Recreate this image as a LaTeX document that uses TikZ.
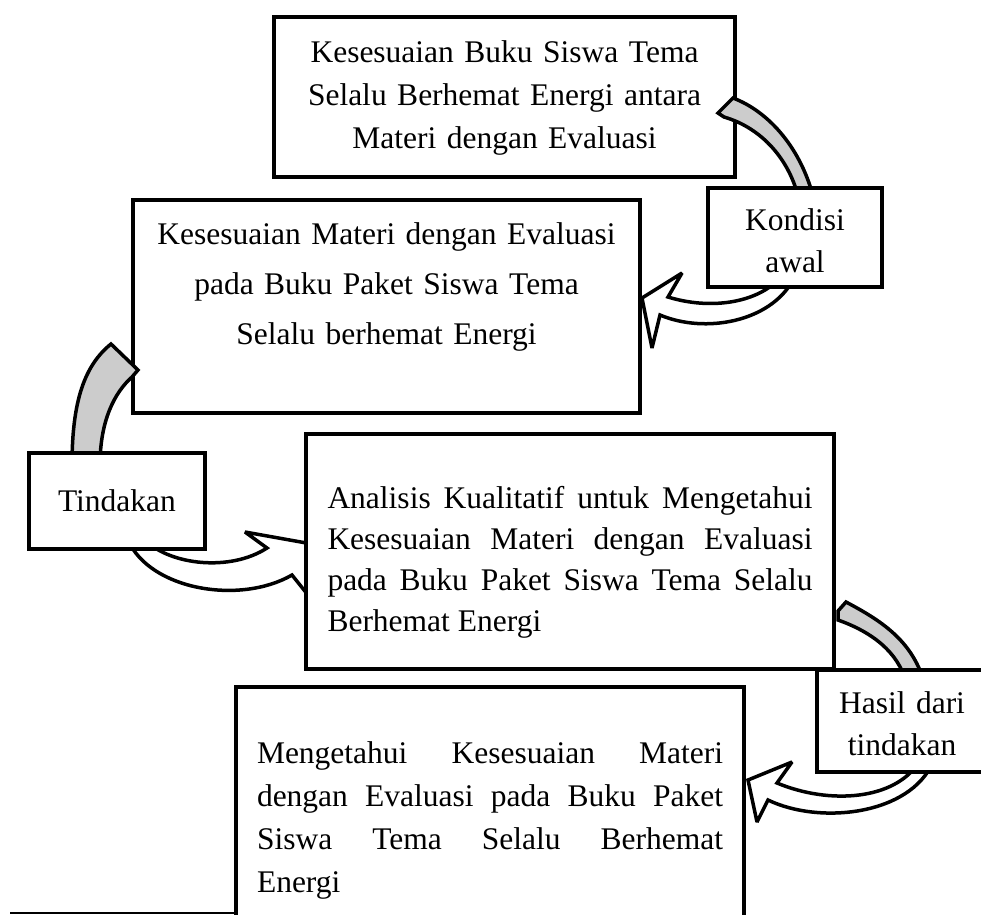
\documentclass[tikz,border=0pt]{standalone}
\usepackage{fontspec}
\setmainfont{Liberation Serif}

\begin{document}
\hyphenpenalty=10000
\begin{tikzpicture}[x=1pt, y=-1pt,
    kotak/.style={draw=black, line width=4pt, fill=white, inner sep=0pt, align=center},
    huruf/.style={font=\fontsize{31.5}{#1}\selectfont},
    lengkung/.style={draw=black, line width=3.5pt, line join=miter, miter limit=3}]
    \useasboundingbox (0,0) rectangle (981,914);
    \clip (0,0) rectangle (981,914);
    \node[kotak, huruf=43, text width=461pt, text height=45pt, text depth=115pt] (kesesuaian) at (504.5,97)
      {Kesesuaian Buku Siswa Tema\\ Selalu Berhemat Energi antara\\ Materi dengan Evaluasi};
    \filldraw[lengkung, fill=black!20] (733,98) .. controls (770,112) and (802,150) .. (814,200)
      -- (799,200) .. controls (790,160) and (762,128) .. (724,117) -- (718,113) -- cycle;
    \filldraw[lengkung, fill=white] (642,298) -- (682,273) -- (668,297)
      .. controls (710,310) and (755,303) .. (778,280) -- (793,280)
      .. controls (770,322) and (705,334) .. (660,315) -- (652,348) -- cycle;
    \node[kotak, huruf=42, text width=174pt, text height=42pt, text depth=57pt] (kondisi) at (795,237.5)
      {Kondisi\\ awal};
    \node[kotak, huruf=50, text width=507pt, text height=44pt, text depth=169pt] (materi) at (386.5,306.5)
      {Kesesuaian Materi dengan Evaluasi\\ pada Buku Paket Siswa Tema\\ Selalu berhemat Energi};
    \filldraw[lengkung, fill=black!20] (72,465) .. controls (72,400) and (85,365) .. (111,344)
      -- (138,370) -- (132,377) .. controls (115,392) and (100,420) .. (100,465) -- cycle;
    \filldraw[lengkung, fill=white] (128,540) .. controls (150,590) and (240,605) .. (292,575)
      -- (312,600) -- (340,549) -- (245,532) -- (267,548)
      .. controls (230,572) and (170,565) .. (145,540) -- cycle;
    \node[kotak, huruf=42, text width=176pt, text height=58pt, text depth=38pt] (tindakan) at (117,501)
      {Tindakan};
    \node[kotak, huruf=41, align=justify, text width=485pt, inner xsep=21.5pt,
      text height=74pt, text depth=161pt] (analisis) at (570,551.5)
      {Analisis Kualitatif untuk Mengetahui\linebreak Kesesuaian Materi dengan Evaluasi\linebreak
       pada Buku Paket Siswa Tema Selalu\linebreak Berhemat Energi};
    \filldraw[lengkung, fill=black!20] (846,602) .. controls (880,620) and (912,640) .. (924,682)
      -- (906,682) .. controls (898,652) and (872,632) .. (838,620) -- (838,611) -- cycle;
    \filldraw[lengkung, fill=white] (748,780) -- (792,762) -- (777,783)
      .. controls (830,805) and (895,800) .. (919,762) -- (933,762)
      .. controls (910,815) and (820,825) .. (768,800) -- (757,822) -- cycle;
    \node[kotak, huruf=42, text width=170pt, text height=43pt, text depth=59pt] (hasil) at (902,721)
      {Hasil dari\\ tindakan};
    \node[kotak, huruf=43, align=justify, text width=466pt, inner xsep=21pt,
      text height=76pt, text depth=177pt] (mengetahui) at (490,813.5)
      {Mengetahui Kesesuaian Materi\linebreak dengan Evaluasi pada Buku Paket\linebreak
       Siswa Tema Selalu Berhemat\linebreak Energi};
    \draw[line width=1.5pt] (10,913) -- (mengetahui.west |- 0,913);
\end{tikzpicture}
\end{document}
